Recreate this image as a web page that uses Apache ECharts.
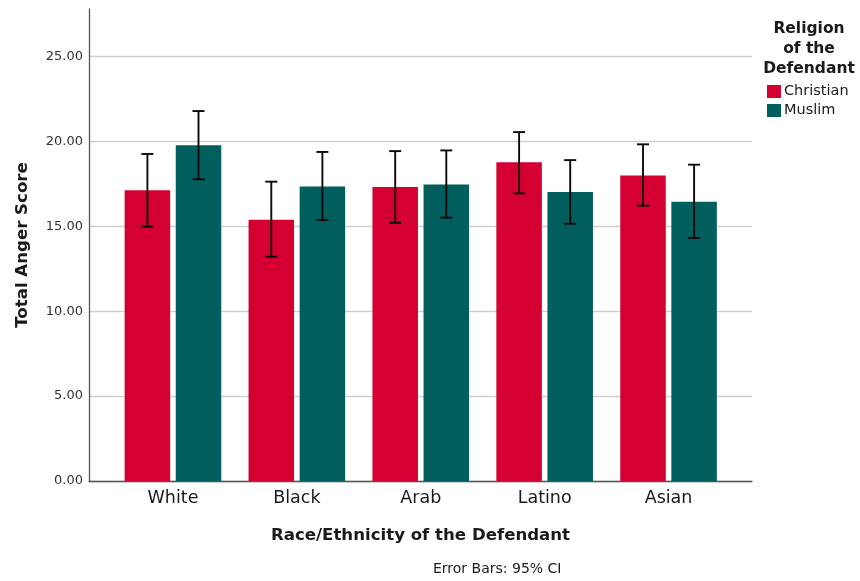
<!DOCTYPE html>
<html>
<head>
<meta charset="utf-8">
<script src="https://cdn.jsdelivr.net/npm/echarts@6/dist/echarts.min.js"></script>
<style>
  html, body { margin: 0; padding: 0; background: #fff; }
  #chart { width: 860px; height: 581px; }
</style>
</head>
<body>
<div id="chart"></div>
<script>
// Mean total anger score by defendant race/ethnicity and religion, with 95% CI
const categories = ['White', 'Black', 'Arab', 'Latino', 'Asian'];
const seriesNames = ['Christian', 'Muslim'];

const christianMean = [17.12, 15.39, 17.31, 18.77, 18.00];
const christianLow  = [14.98, 13.21, 15.21, 16.94, 16.21];
const christianHigh = [19.26, 17.63, 19.43, 20.55, 19.83];

const muslimMean = [19.77, 17.35, 17.47, 17.02, 16.45];
const muslimLow  = [17.77, 15.37, 15.51, 15.15, 14.31];
const muslimHigh = [21.79, 19.38, 19.47, 18.90, 18.63];

const yTicks = [0, 5, 10, 15, 20, 25];

const FONT = '"DejaVu Sans", "Noto Sans", sans-serif';
const colors = ['#d50032', '#005e5c'];
const BAR_W = 45.5;
const BAR_GAP_PX = 5.6;
const Y_MAX = 27.8;

function ciSeries(name, low, high, side) {
  return {
    type: 'custom',
    name: name + ' CI',
    xAxisIndex: 1,
    yAxisIndex: 1,
    z: 5,
    silent: true,
    legendHoverLink: false,
    data: low.map((lo, i) => [i, lo, high[i]]),
    encode: { x: 0, y: [1, 2] },
    renderItem: function (params, api) {
      const i = api.value(0);
      const top = api.coord([i, api.value(2)]);
      const bot = api.coord([i, api.value(1)]);
      const x = top[0] + side * (BAR_W + BAR_GAP_PX) / 2;
      const cap = 6;
      const style = { stroke: '#0a0a0a', lineWidth: 1.9 };
      return {
        type: 'group',
        children: [
          { type: 'line', shape: { x1: x, y1: top[1], x2: x, y2: bot[1] }, style: style },
          { type: 'line', shape: { x1: x - cap, y1: top[1], x2: x + cap, y2: top[1] }, style: style },
          { type: 'line', shape: { x1: x - cap, y1: bot[1], x2: x + cap, y2: bot[1] }, style: style }
        ]
      };
    }
  };
}

const chart = echarts.init(document.getElementById('chart'), null, { renderer: 'canvas' });

chart.setOption({
  backgroundColor: '#ffffff',
  animation: false,
  textStyle: { fontFamily: FONT },
  grid: [
    { left: 89, right: 108, top: 9, bottom: 100 },
    { left: 111, right: 129.5, top: 9, bottom: 100 }
  ],
  xAxis: [
    {
      gridIndex: 0,
      type: 'value',
      min: 0,
      max: 1,
      axisLine: { show: true, lineStyle: { color: '#555', width: 1.3 } },
      axisTick: { show: false },
      axisLabel: { show: false },
      splitLine: { show: false },
      name: 'Race/Ethnicity of the Defendant',
      nameLocation: 'middle',
      nameGap: 46,
      nameTextStyle: { fontFamily: FONT, fontSize: 16.6, fontWeight: 'bold', color: '#1a1a1a' }
    },
    {
      gridIndex: 1,
      type: 'category',
      data: categories,
      axisLine: { show: false },
      axisTick: { show: false },
      axisLabel: { fontFamily: FONT, fontSize: 17.5, color: '#1a1a1a', margin: 8 },
      splitLine: { show: false }
    }
  ],
  yAxis: [
    {
      gridIndex: 0,
      type: 'value',
      min: 0,
      max: Y_MAX,
      interval: 5,
      axisLine: { show: true, lineStyle: { color: '#555', width: 1.3 } },
      axisTick: { show: false },
      axisLabel: {
        fontFamily: FONT, fontSize: 13, color: '#333', margin: 6,
        showMaxLabel: false,
        formatter: v => (yTicks.includes(v) ? v.toFixed(2) : '')
      },
      splitLine: { show: true, showMaxLine: false, lineStyle: { color: '#cfcfcf', width: 1.3 } },
      name: 'Total Anger Score',
      nameLocation: 'middle',
      nameGap: 58,
      nameTextStyle: { fontFamily: FONT, fontSize: 16.6, fontWeight: 'bold', color: '#1a1a1a' }
    },
    {
      gridIndex: 1,
      type: 'value',
      min: 0,
      max: Y_MAX,
      show: false
    }
  ],
  legend: {
    data: seriesNames,
    orient: 'vertical',
    left: 762,
    top: 79,
    itemWidth: 14,
    itemHeight: 13,
    itemGap: 4,
    icon: 'rect',
    textStyle: { fontFamily: FONT, fontSize: 14.5, color: '#1a1a1a', padding: [0, 0, 0, -2] }
  },
  graphic: [
    {
      type: 'text',
      x: 809,
      y: 19,
      style: {
        text: 'Religion\nof the\nDefendant',
        align: 'center',
        verticalAlign: 'top',
        lineHeight: 20,
        font: 'bold 15.5px ' + FONT,
        fill: '#1a1a1a'
      }
    },
    {
      type: 'text',
      left: 433,
      top: 562,
      style: {
        text: 'Error Bars: 95% CI',
        font: '14px ' + FONT,
        fill: '#1a1a1a'
      }
    }
  ],
  series: [
    {
      name: seriesNames[0],
      type: 'bar',
      xAxisIndex: 1,
      yAxisIndex: 1,
      barWidth: BAR_W,
      barGap: (BAR_GAP_PX / BAR_W * 100).toFixed(1) + '%',
      itemStyle: { color: colors[0] },
      data: christianMean
    },
    {
      name: seriesNames[1],
      type: 'bar',
      xAxisIndex: 1,
      yAxisIndex: 1,
      barWidth: BAR_W,
      itemStyle: { color: colors[1] },
      data: muslimMean
    },
    ciSeries(seriesNames[0], christianLow, christianHigh, -1),
    ciSeries(seriesNames[1], muslimLow, muslimHigh, 1)
  ]
});
</script>
</body>
</html>
